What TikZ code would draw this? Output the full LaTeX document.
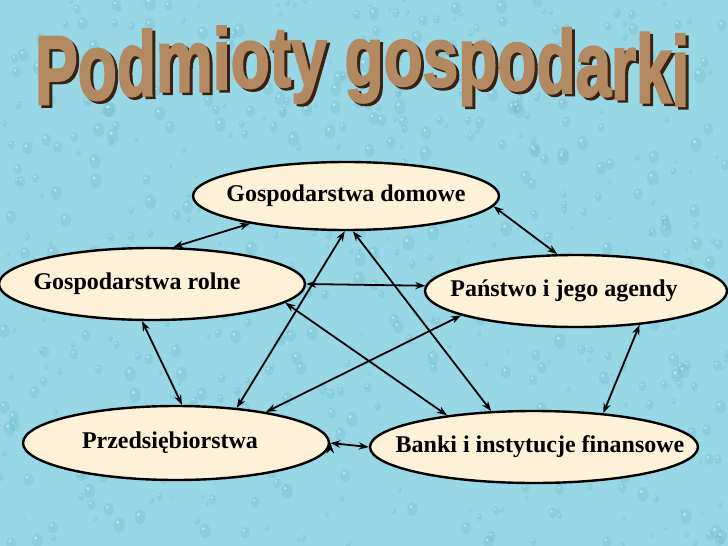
\documentclass[tikz,border=0pt]{standalone}
\usepackage{fontspec}
\usepackage{graphicx}
\setmainfont{Liberation Serif}
\newfontfamily\tytulfont{Liberation Sans}[BoldFeatures={FakeBold=2.5}]
\usetikzlibrary{arrows.meta,shapes.geometric}

\definecolor{woda}{RGB}{152,216,230}
\definecolor{kropla}{RGB}{98,178,200}
\definecolor{kremowy}{RGB}{253,241,216}
\definecolor{braz}{RGB}{178,137,96}
\definecolor{cien}{RGB}{58,34,18}
\newcommand{\napis}[2]{\makebox[0pt]{\hspace*{#1}#2}}

\begin{document}
\begin{tikzpicture}[x=0.5pt,y=-0.5pt,>={Stealth[length=5pt,width=3.6pt]},line width=0.9pt]
  \tikzstyle{podmiot}=[ellipse,draw=black,line width=1.2pt,fill=kremowy,inner sep=0pt,font=\bfseries\fontsize{12}{14}\selectfont]
  \tikzstyle{litera}=[anchor=base,inner sep=0pt,font=\tytulfont\bfseries\fontsize{32}{32}\selectfont]
  \tikzstyle{strzalka}=[<->,draw=black]

  \useasboundingbox (0,0) rectangle (728,546);
  \fill[woda] (0,0) rectangle (728,546);
  % krople na tle
  \pgfmathsetseed{11}
  \foreach \k in {1,...,650}{
    \pgfmathsetmacro\xx{rnd*728}
    \pgfmathsetmacro\yy{rnd*546}
    \pgfmathsetmacro\rr{1.5+rnd*4.5}
    \fill[kropla,opacity=.25] (\xx,\yy) ellipse [x radius=\rr,y radius=1.3*\rr];
    \fill[white,opacity=.45] (\xx-.3*\rr,\yy-.45*\rr) circle [radius=.3*\rr];
  }

  % tytul, litery na fali
  \foreach \lit/\x [count=\i] in {P/56.3,o/97.3,d/136.4,m/184.3,i/221.7,o/250.2,t/280.4,y/308.8,g/364,o/403.1,s/440.4,p/477.8,o/516.9,d/556,a/593.3,r/623.5,k/653.8,i/680.4}{
    \pgfmathsetmacro\u{(\x-362)/327}
    \pgfmathsetmacro\sy{1.31+0.25*\u*\u}
    \pgfmathsetmacro\yb{85+22*\u*\u}
    \node[litera,text=cien] (c\i) at (\x+3,\yb+2.5) {\scalebox{1}[\sy]{\lit}};
    \node[litera,text=braz] (l\i) at (\x,\yb) {\scalebox{1}[\sy]{\lit}};
  }

  \node[podmiot,minimum width=153pt,minimum height=34pt] (D) at (346,196) {\napis{0pt}{Gospodarstwa domowe}};
  \node[podmiot,minimum width=153pt,minimum height=36pt] (R) at (152,284) {\napis{-15pt}{Gospodarstwa rolne}};
  \node[podmiot,minimum width=151pt,minimum height=36pt] (P) at (576,291) {\napis{-12pt}{Państwo i jego agendy}};
  \node[podmiot,minimum width=153pt,minimum height=37pt] (F) at (176,443) {\napis{-6pt}{Przedsiębiorstwa}};
  \node[podmiot,minimum width=164pt,minimum height=36pt] (B) at (534,447) {\napis{6pt}{Banki i instytucje finansowe}};

  \path[strzalka] (R.60) edge (D.196)
        (D.356) edge (P.117)
        (R.0) edge (P.178)
        (D.268) edge (F.30)
        (D.281) edge (B.140)
        (R.352) edge (B.160)
        (P.192) edge (F.19)
        (R.255) edge (F.81)
        (P.332) edge (B.26)
        (F.0) edge (B.180);
\end{tikzpicture}
\end{document}
